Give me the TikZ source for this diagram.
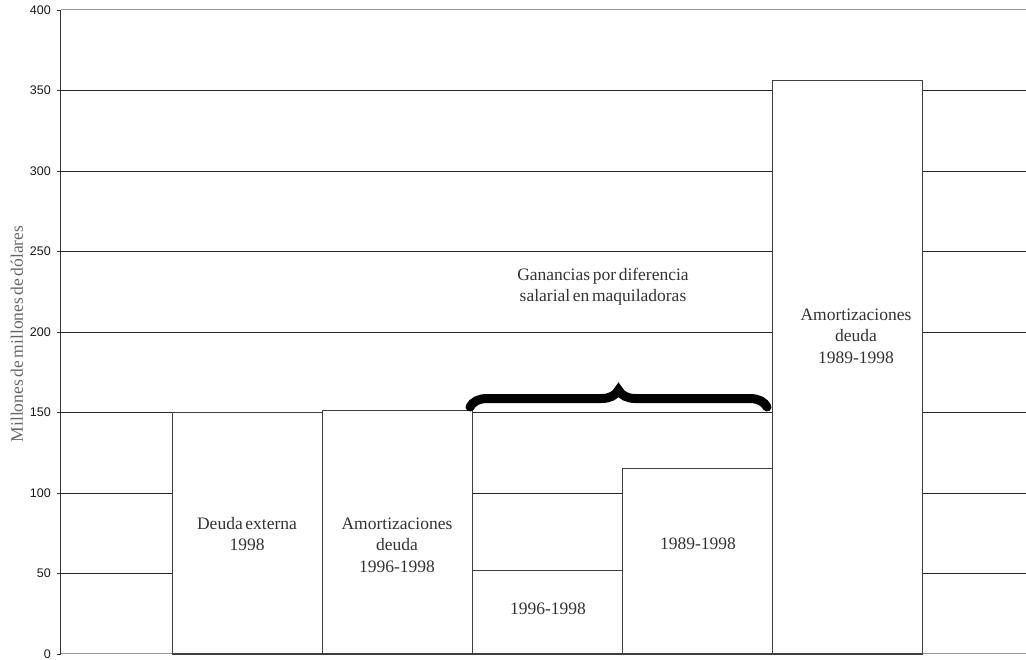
\documentclass[tikz,border=0pt]{standalone}
\usepackage{fontspec}
\setmainfont{Liberation Serif}[WordSpace=0.6]
\newfontfamily\tickfont{Liberation Sans}
\usetikzlibrary{decorations.pathreplacing}

\begin{document}
\begin{tikzpicture}[x=1pt,y=1.61pt,
	bar/.style={draw=black!75,fill=white,line width=1.2pt},
	lbl/.style={align=center,text=black!80,font=\fontsize{17.5}{21.5}\selectfont,inner sep=0pt},
	tick/.style={font=\tickfont\fontsize{12.5}{12.5}\selectfont,text=black!90,anchor=east,inner sep=0pt}]
	\useasboundingbox (-61,-3.727) rectangle (965,406.21);
	% grid
	\foreach \v in {50,100,...,350}
		\draw[black!85,line width=0.9pt] (0,\v) -- (965,\v);
	\draw[black!40,line width=1pt] (0,400) -- (965,400);
	\draw[black!40,line width=1pt] (0,0) -- (965,0);
	% axis
	\foreach \v in {0,50,...,400}{
		\draw[black!80] (-4,\v) -- (0,\v);
		\node[tick] (t\v) at (-10,\v) {\v};
	}
	\draw[black!80,line width=1pt] (0,0) -- (0,400);
	\node[lbl,text=black!60,rotate=90] (ylab) at (-44,198.8) {Millones de millones de dólares};
	% bars
	\draw[bar] (111.5,0) rectangle (261.5,150);
	\draw[bar] (261.5,0) rectangle (411.5,151);
	\draw[bar] (411.5,0) rectangle (561.5,52);
	\draw[bar] (561.5,0) rectangle (711.5,115);
	\draw[bar] (711.5,0) rectangle (861.5,356);
	\node[lbl] (deuda) at (186,74.5) {Deuda externa\\1998};
	\node[lbl] (am1) at (336,67.7) {Amortizaciones\\deuda\\1996-1998};
	\node[lbl] (g1) at (487,28) {1996-1998};
	\node[lbl] (g2) at (637,68.3) {1989-1998};
	\node[lbl] (am2) at (795,197.5) {Amortizaciones\\deuda\\1989-1998};
	\node[lbl] (gan) at (542,228) {Ganancias por diferencia\\salarial en maquiladoras};
	% brace
	\coordinate (b1) at (409,153.4);
	\coordinate (b2) at (706,153.4);
	\draw[decorate,decoration={brace,amplitude=17pt},line width=9pt,line cap=round] (b1) -- (b2);
\end{tikzpicture}
\end{document}
